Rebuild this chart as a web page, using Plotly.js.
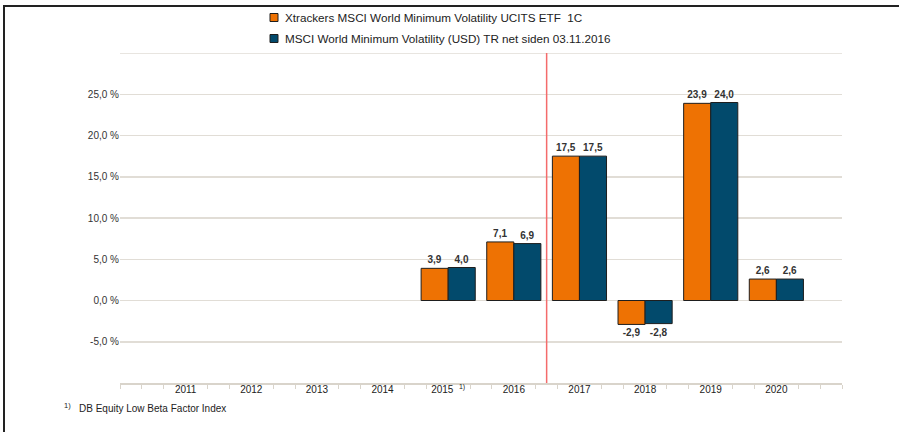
<!DOCTYPE html>
<html>
<head>
<meta charset="utf-8">
<script src="https://cdn.plot.ly/plotly-3.0.1.min.js"></script>
<style>
  html, body { margin: 0; padding: 0; background: #fff; width: 899px; height: 432px; overflow: hidden; }
  #frame { position: absolute; left: 3px; top: 5px; width: 896px; height: 427px;
           border-left: 2px solid #222; border-top: 2px solid #222; box-sizing: border-box; }
  #chart { position: absolute; left: 0; top: 0; width: 899px; height: 432px; }
</style>
</head>
<body>
<div id="frame"></div>
<div id="chart"></div>
<script>
// ---- data ----
const years = [2011, 2012, 2013, 2014, 2015, 2016, 2017, 2018, 2019, 2020];
const xTickLabels = ['2011', '2012', '2013', '2014', '2015  <sup>1)</sup>', '2016', '2017', '2018', '2019', '2020'];
const etfReturns = [null, null, null, null, 3.9, 7.1, 17.5, -2.9, 23.9, 2.6];
const indexReturns = [null, null, null, null, 4.0, 6.9, 17.5, -2.8, 24.0, 2.6];
const seriesNames = [
  'Xtrackers MSCI World Minimum Volatility UCITS ETF  1C',
  'MSCI World Minimum Volatility (USD) TR net siden 03.11.2016'
];
const seriesColors = ['#ee7203', '#024a6c'];
const yTickVals = [-5, 0, 5, 10, 15, 20, 25];
const yTickLabels = ['-5,0 %', '0,0 %', '5,0 %', '10,0 %', '15,0 %', '20,0 %', '25,0 %'];
const yTopGrid = 30;
const dividerAfterYear = 2016;
const footnoteMark = '1)';
const footnoteText = 'DB Equity Low Beta Factor Index';

// ---- layout geometry (pixels) ----
const W = 899, H = 432;
const M = { l: 120, r: 57, t: 53, b: 49 };
const plotW = W - M.l - M.r, plotH = H - M.t - M.b;
const px = X => (X - M.l) / plotW;
const py = Y => 1 - (Y - M.t) / plotH;

const font = 'Liberation Sans, Arial, sans-serif';

// minor ticks at thirds of each category slot, not at the label centres
const minorVals = [];
for (let k = 0; k <= 33; k++) {
  const v = 2010 + k / 3;
  if (k % 3 === 0 && years.includes(2010 + k / 3)) continue;
  minorVals.push(v);
}

const traces = [etfReturns, indexReturns].map((vals, i) => ({
  type: 'bar',
  x: years,
  y: vals,
  name: seriesNames[i],
  marker: { color: seriesColors[i], line: { color: '#1e1e1e', width: 1 } },
  texttemplate: '%{y:.1f}',
  textposition: 'outside',
  textfont: { family: font, size: 10, color: '#333', weight: 'bold' },
  cliponaxis: false,
  showlegend: false,
  hoverinfo: 'skip'
}));

// legend drawn manually
const legendShapes = [], legendAnn = [];
const legRowsY = [17.5, 38.5];
seriesNames.forEach((n, i) => {
  const cy = legRowsY[i];
  legendShapes.push({
    type: 'rect', xref: 'paper', yref: 'paper',
    x0: px(270), x1: px(278), y0: py(cy - 4), y1: py(cy + 4),
    fillcolor: seriesColors[i], line: { color: '#1e1e1e', width: 1 }
  });
  legendAnn.push({
    xref: 'paper', yref: 'paper', x: px(283), y: py(cy),
    xanchor: 'left', yanchor: 'middle', showarrow: false,
    text: n, font: { family: font, size: 11.7, color: '#222' }
  });
});

const layout = {
  width: W, height: H,
  margin: M,
  paper_bgcolor: 'rgba(0,0,0,0)',
  plot_bgcolor: 'rgba(0,0,0,0)',
  separators: ',.',
  barmode: 'group',
  bargap: 0.175,
  bargroupgap: 0,
  font: { family: font, size: 10, color: '#333' },
  xaxis: {
    type: 'linear',
    range: [2010, 2021],
    tickmode: 'array',
    tickvals: years,
    ticktext: xTickLabels,
    ticks: '',
    ticklabelstandoff: -4,
    showgrid: false,
    zeroline: false,
    showline: true,
    linecolor: '#d9d4cb',
    linewidth: 2,
    tickfont: { family: font, size: 10, color: '#222' },
    minor: { tickmode: 'array', tickvals: minorVals, ticks: 'outside', ticklen: 4, tickcolor: '#d9d4cb', tickwidth: 1, showgrid: false },
    fixedrange: true
  },
  yaxis: {
    range: [-10, 30],
    tickmode: 'array',
    tickvals: yTickVals,
    ticktext: yTickLabels,
    ticks: '',
    showgrid: true,
    gridcolor: '#e1ddd6',
    gridwidth: 1.5,
    zeroline: false,
    showline: false,
    tickfont: { family: font, size: 10, color: '#333' },
    fixedrange: true
  },
  shapes: [
    {
      type: 'line', xref: 'paper', yref: 'y',
      x0: 0, x1: 1, y0: yTopGrid, y1: yTopGrid,
      line: { color: '#e1ddd6', width: 1.5 }, layer: 'below'
    },
    {
      type: 'line', xref: 'x', yref: 'paper',
      x0: dividerAfterYear + 0.5, x1: dividerAfterYear + 0.5, y0: 0, y1: 1,
      line: { color: '#f46b6b', width: 1.5 }
    },
    ...legendShapes
  ],
  annotations: [
    ...legendAnn,
    {
      xref: 'paper', yref: 'paper', x: px(62), y: py(406),
      xanchor: 'left', yanchor: 'middle', showarrow: false,
      text: footnoteMark, font: { family: font, size: 7.5, color: '#222' }
    },
    {
      xref: 'paper', yref: 'paper', x: px(77), y: py(408),
      xanchor: 'left', yanchor: 'middle', showarrow: false,
      text: footnoteText, font: { family: font, size: 10, color: '#222' }
    }
  ]
};

Plotly.newPlot('chart', traces, layout, { staticPlot: true, displayModeBar: false });
</script>
</body>
</html>
